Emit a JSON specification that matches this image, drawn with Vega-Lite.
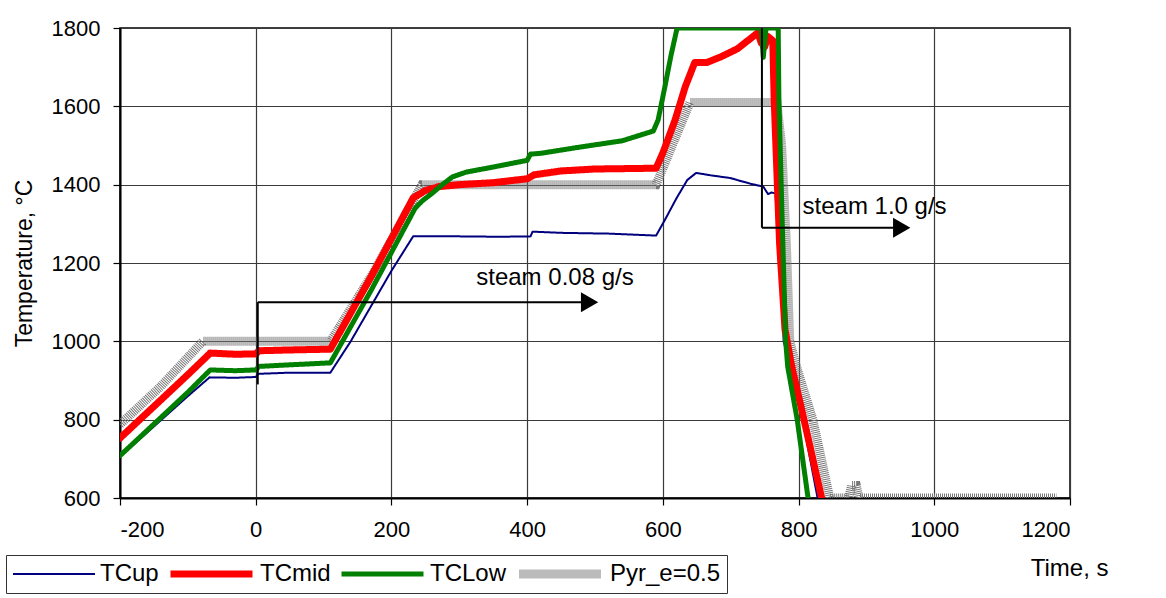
{
  "$schema": "https://vega.github.io/schema/vega-lite/v6.json",
  "width": 950,
  "height": 470,
  "autosize": {"type": "none"},
  "padding": {"left": 120, "top": 28, "right": 96, "bottom": 100},
  "background": "white",
  "config": {
    "font": "Liberation Sans",
    "view": {"stroke": "#000", "strokeWidth": 1.5},
    "axis": {
      "labelFont": "Liberation Sans",
      "labelFontSize": 22,
      "labelColor": "#000",
      "titleFont": "Liberation Sans",
      "titleFontSize": 23,
      "titleFontWeight": "normal",
      "titleColor": "#000",
      "tickColor": "#000",
      "tickSize": 7,
      "tickWidth": 1.2,
      "domainColor": "#000",
      "domainWidth": 2,
      "gridColor": "#3a3a3a",
      "gridWidth": 1.2,
      "gridOpacity": 1
    }
  },
  "datasets": {
    "series": [
      {"s": "Pyr_e=0.5", "t": -200, "T": 788}, {"s": "Pyr_e=0.5", "t": -140, "T": 885}, {"s": "Pyr_e=0.5", "t": -78, "T": 1000}, {"s": "Pyr_e=0.5", "t": 110, "T": 1000}, {"s": "Pyr_e=0.5", "t": 175, "T": 1180}, {"s": "Pyr_e=0.5", "t": 245, "T": 1400}, {"s": "Pyr_e=0.5", "t": 590, "T": 1400}, {"s": "Pyr_e=0.5", "t": 640, "T": 1610}, {"s": "Pyr_e=0.5", "t": 768, "T": 1610}, {"s": "Pyr_e=0.5", "t": 775, "T": 1500}, {"s": "Pyr_e=0.5", "t": 782, "T": 1250}, {"s": "Pyr_e=0.5", "t": 787, "T": 1000}, {"s": "Pyr_e=0.5", "t": 797, "T": 935}, {"s": "Pyr_e=0.5", "t": 821, "T": 800}, {"s": "Pyr_e=0.5", "t": 846, "T": 600}, {"s": "Pyr_e=0.5", "t": 874, "T": 600}, {"s": "Pyr_e=0.5", "t": 878, "T": 632}, {"s": "Pyr_e=0.5", "t": 885, "T": 632}, {"s": "Pyr_e=0.5", "t": 889, "T": 600}, {"s": "Pyr_e=0.5", "t": 1180, "T": 600},

      {"s": "TCup", "t": -200, "T": 705}, {"s": "TCup", "t": -140, "T": 798}, {"s": "TCup", "t": -100, "T": 860}, {"s": "TCup", "t": -68, "T": 908}, {"s": "TCup", "t": -30, "T": 907}, {"s": "TCup", "t": 0, "T": 909}, {"s": "TCup", "t": 4, "T": 917}, {"s": "TCup", "t": 50, "T": 920}, {"s": "TCup", "t": 110, "T": 920}, {"s": "TCup", "t": 140, "T": 1000}, {"s": "TCup", "t": 170, "T": 1090}, {"s": "TCup", "t": 200, "T": 1180}, {"s": "TCup", "t": 232, "T": 1268}, {"s": "TCup", "t": 300, "T": 1268}, {"s": "TCup", "t": 360, "T": 1267}, {"s": "TCup", "t": 405, "T": 1268}, {"s": "TCup", "t": 408, "T": 1280}, {"s": "TCup", "t": 450, "T": 1277}, {"s": "TCup", "t": 520, "T": 1275}, {"s": "TCup", "t": 590, "T": 1270}, {"s": "TCup", "t": 603, "T": 1310}, {"s": "TCup", "t": 620, "T": 1365}, {"s": "TCup", "t": 636, "T": 1412}, {"s": "TCup", "t": 649, "T": 1430}, {"s": "TCup", "t": 670, "T": 1424}, {"s": "TCup", "t": 699, "T": 1417}, {"s": "TCup", "t": 730, "T": 1402}, {"s": "TCup", "t": 748, "T": 1395}, {"s": "TCup", "t": 755, "T": 1376}, {"s": "TCup", "t": 760, "T": 1380}, {"s": "TCup", "t": 766, "T": 1378}, {"s": "TCup", "t": 770, "T": 1250}, {"s": "TCup", "t": 776, "T": 1100}, {"s": "TCup", "t": 778, "T": 1000}, {"s": "TCup", "t": 788, "T": 935}, {"s": "TCup", "t": 806, "T": 800}, {"s": "TCup", "t": 828, "T": 600},

      {"s": "TCmid", "t": -200, "T": 753}, {"s": "TCmid", "t": -140, "T": 850}, {"s": "TCmid", "t": -100, "T": 915}, {"s": "TCmid", "t": -67, "T": 970}, {"s": "TCmid", "t": -30, "T": 967}, {"s": "TCmid", "t": 0, "T": 968}, {"s": "TCmid", "t": 5, "T": 976}, {"s": "TCmid", "t": 50, "T": 978}, {"s": "TCmid", "t": 110, "T": 980}, {"s": "TCmid", "t": 170, "T": 1165}, {"s": "TCmid", "t": 232, "T": 1366}, {"s": "TCmid", "t": 250, "T": 1385}, {"s": "TCmid", "t": 270, "T": 1395}, {"s": "TCmid", "t": 300, "T": 1400}, {"s": "TCmid", "t": 350, "T": 1405}, {"s": "TCmid", "t": 400, "T": 1415}, {"s": "TCmid", "t": 410, "T": 1425}, {"s": "TCmid", "t": 450, "T": 1435}, {"s": "TCmid", "t": 500, "T": 1440}, {"s": "TCmid", "t": 590, "T": 1442}, {"s": "TCmid", "t": 600, "T": 1481}, {"s": "TCmid", "t": 618, "T": 1565}, {"s": "TCmid", "t": 633, "T": 1650}, {"s": "TCmid", "t": 647, "T": 1712}, {"s": "TCmid", "t": 665, "T": 1712}, {"s": "TCmid", "t": 685, "T": 1726}, {"s": "TCmid", "t": 710, "T": 1747}, {"s": "TCmid", "t": 740, "T": 1788}, {"s": "TCmid", "t": 745, "T": 1762}, {"s": "TCmid", "t": 750, "T": 1752}, {"s": "TCmid", "t": 755, "T": 1778}, {"s": "TCmid", "t": 762, "T": 1768}, {"s": "TCmid", "t": 764, "T": 1620}, {"s": "TCmid", "t": 772, "T": 1250}, {"s": "TCmid", "t": 780, "T": 1030}, {"s": "TCmid", "t": 790, "T": 935}, {"s": "TCmid", "t": 808, "T": 800}, {"s": "TCmid", "t": 834, "T": 600},

      {"s": "TCLow", "t": -200, "T": 708}, {"s": "TCLow", "t": -140, "T": 805}, {"s": "TCLow", "t": -100, "T": 870}, {"s": "TCLow", "t": -67, "T": 927}, {"s": "TCLow", "t": -30, "T": 925}, {"s": "TCLow", "t": 0, "T": 927}, {"s": "TCLow", "t": 5, "T": 936}, {"s": "TCLow", "t": 50, "T": 940}, {"s": "TCLow", "t": 110, "T": 945}, {"s": "TCLow", "t": 170, "T": 1130}, {"s": "TCLow", "t": 235, "T": 1340}, {"s": "TCLow", "t": 245, "T": 1358}, {"s": "TCLow", "t": 260, "T": 1378}, {"s": "TCLow", "t": 275, "T": 1400}, {"s": "TCLow", "t": 290, "T": 1420}, {"s": "TCLow", "t": 310, "T": 1432}, {"s": "TCLow", "t": 350, "T": 1445}, {"s": "TCLow", "t": 400, "T": 1462}, {"s": "TCLow", "t": 405, "T": 1478}, {"s": "TCLow", "t": 420, "T": 1480}, {"s": "TCLow", "t": 478, "T": 1496}, {"s": "TCLow", "t": 540, "T": 1512}, {"s": "TCLow", "t": 586, "T": 1537}, {"s": "TCLow", "t": 593, "T": 1565}, {"s": "TCLow", "t": 603, "T": 1650}, {"s": "TCLow", "t": 612, "T": 1730}, {"s": "TCLow", "t": 621, "T": 1800}, {"s": "TCLow", "t": 745, "T": 1800}, {"s": "TCLow", "t": 748, "T": 1725}, {"s": "TCLow", "t": 752, "T": 1800}, {"s": "TCLow", "t": 770, "T": 1800}, {"s": "TCLow", "t": 771, "T": 1620}, {"s": "TCLow", "t": 776, "T": 1300}, {"s": "TCLow", "t": 781, "T": 1000}, {"s": "TCLow", "t": 784, "T": 935}, {"s": "TCLow", "t": 798, "T": 800}, {"s": "TCLow", "t": 814, "T": 600}
    ],
    "rules": [
      {"t1": 3, "T1": 1100, "t2": 3, "T2": 890},
      {"t1": 3, "T1": 1100, "t2": 480, "T2": 1100},
      {"t1": 746, "T1": 1800, "t2": 746, "T2": 1290},
      {"t1": 746, "T1": 1290, "t2": 945, "T2": 1290}
    ],
    "heads": [
      {"t": 492, "T": 1100},
      {"t": 952, "T": 1290}
    ],
    "notes": [
      {"t": 441, "T": 1162, "label": "steam 0.08 g/s"},
      {"t": 912, "T": 1343, "label": "steam 1.0 g/s"}
    ]
  },
  "layer": [
    {
      "data": {"name": "series"},
      "encoding": {
        "x": {
          "field": "t", "type": "quantitative",
          "scale": {"domain": [-200, 1200], "nice": false, "zero": false},
          "axis": {
            "values": [-200, 0, 200, 400, 600, 800, 1000, 1200],
            "format": "d",
            "labelExpr": "replace(datum.label, '\u2212', '-')",
            "labelPadding": 14,
            "title": "Time, s",
            "titleX": 988,
            "titleY": 70,
            "titleAlign": "right",
            "titleBaseline": "middle",
            "titleFontSize": 24
          }
        },
        "y": {
          "field": "T", "type": "quantitative",
          "scale": {"domain": [600, 1800], "nice": false, "zero": false},
          "axis": {
            "values": [600, 800, 1000, 1200, 1400, 1600, 1800],
            "format": "d",
            "labelPadding": 13,
            "title": "Temperature, °C",
            "titleX": -96,
            "titleY": 235,
            "titleBaseline": "middle",
            "titleAlign": "center",
            "titleAngle": -90
          }
        },
        "color": {
          "field": "s", "type": "nominal",
          "scale": {"domain": ["TCup", "TCmid", "TCLow", "Pyr_e=0.5"], "range": ["#00007f", "#ff0000", "#007f00", "#777777"]},
          "legend": {
            "title": null,
            "orient": "none",
            "legendX": -114,
            "legendY": 527,
            "direction": "horizontal",
            "symbolType": "stroke",
            "symbolSize": 6724,
            "clipHeight": 26,
            "labelFont": "Liberation Sans",
            "labelFontSize": 24,
            "labelColor": "#000",
            "labelOffset": 4,
            "labelLimit": 0,
            "columnPadding": 8,
            "padding": 6,
            "strokeColor": "#333",
            "fillColor": "white"
          }
        },
        "strokeWidth": {
          "field": "s", "type": "nominal",
          "scale": {"type": "ordinal", "domain": ["TCup", "TCmid", "TCLow", "Pyr_e=0.5"], "range": [2, 7, 5, 9]},
          "legend": null
        },
        "strokeDash": {
          "field": "s", "type": "nominal",
          "scale": {"domain": ["TCup", "TCmid", "TCLow", "Pyr_e=0.5"], "range": [[1, 0], [1, 0], [1, 0], [1, 1]]},
          "legend": null
        }
      },
      "layer": [
        {"transform": [{"filter": "datum.s === 'Pyr_e=0.5'"}], "mark": {"type": "line", "clip": true, "strokeCap": "butt"}},
        {"transform": [{"filter": "datum.s === 'TCup'"}], "mark": {"type": "line", "clip": true, "strokeCap": "round", "strokeJoin": "round"}},
        {"transform": [{"filter": "datum.s === 'TCmid'"}], "mark": {"type": "line", "clip": true, "strokeCap": "round", "strokeJoin": "round"}},
        {"transform": [{"filter": "datum.s === 'TCLow'"}], "mark": {"type": "line", "clip": true, "strokeCap": "round", "strokeJoin": "round"}}
      ]
    },
    {
      "data": {"name": "rules"},
      "mark": {"type": "rule", "color": "#000", "strokeWidth": 2},
      "encoding": {
        "x": {"field": "t1", "type": "quantitative"},
        "y": {"field": "T1", "type": "quantitative"},
        "x2": {"field": "t2"},
        "y2": {"field": "T2"}
      }
    },
    {
      "data": {"name": "heads"},
      "mark": {"type": "point", "shape": "triangle-right", "filled": true, "color": "#000", "size": 400, "opacity": 1},
      "encoding": {
        "x": {"field": "t", "type": "quantitative"},
        "y": {"field": "T", "type": "quantitative"}
      }
    },
    {
      "data": {"name": "notes"},
      "mark": {"type": "text", "font": "Liberation Sans", "fontSize": 24, "color": "#000", "align": "center", "baseline": "middle"},
      "encoding": {
        "x": {"field": "t", "type": "quantitative"},
        "y": {"field": "T", "type": "quantitative"},
        "text": {"field": "label"}
      }
    }
  ]
}
